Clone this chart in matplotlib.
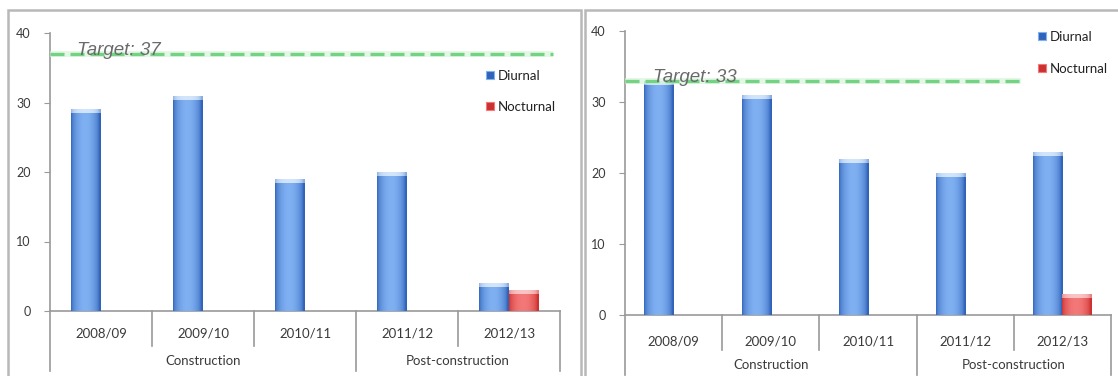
import numpy as np
import matplotlib
matplotlib.use("Agg")
import matplotlib.pyplot as plt
from matplotlib.patches import Rectangle
from matplotlib.colors import to_rgb

# ---- data -------------------------------------------------------------
years = ["2008/09", "2009/10", "2010/11", "2011/12", "2012/13"]
phases = ["Construction", "Post-construction"]
phase_spans = [(0, 2), (3, 4)]          # first / last category index of each phase

left_diurnal = [29, 31, 19, 20, 4]
left_nocturnal = [0, 0, 0, 0, 3]
left_target = 37

right_diurnal = [33, 31, 22, 20, 23]
right_nocturnal = [0, 0, 0, 0, 3]
right_target = 33

series_names = ["Diurnal", "Nocturnal"]
y_ticks = [0, 10, 20, 30, 40]

# ---- figure -----------------------------------------------------------
W, H = 1118, 376
fig = plt.figure(figsize=(W / 100, H / 100), dpi=100)
fig.patch.set_facecolor("white")

LABEL_FONT = ["Lato", "DejaVu Sans"]
TEXT_GRAY = "#3a3a3a"
AXIS_GRAY = "#9a9a9a"


def fx(px):
    return px / W


def fy(py):
    return 1 - py / H


# panel frames (open at the bottom)
for x0, x1 in [(8, 581), (585, 1130)]:
    fig.add_artist(Rectangle((fx(x0), fy(390)), fx(x1) - fx(x0), fy(10) - fy(390),
                             transform=fig.transFigure, facecolor="white",
                             edgecolor="#b8b8b8", linewidth=1.8, zorder=0))

BLUE = dict(dark="#3063b8", light="#7fb0f2", cap="#d3e5fb")
RED = dict(dark="#cc3030", light="#f47878", cap="#fac4c4")


def gradient_bar(ax, rect, pal, cap_units):
    x0, w, h = rect.get_x(), rect.get_width(), rect.get_height()
    if h <= 0:
        return
    t = np.linspace(0, 1, 64)
    prof = np.clip(np.sin(np.pi * np.clip(t * 1.05, 0, 1)) ** 0.55, 0, 1)
    d, l = np.array(to_rgb(pal["dark"])), np.array(to_rgb(pal["light"]))
    row = d[None, :] * (1 - prof[:, None]) + l[None, :] * prof[:, None]
    img = row[None, :, :]
    im = ax.imshow(img, extent=(x0, x0 + w, 0, h), aspect="auto",
                   interpolation="bicubic", zorder=3)
    im.set_clip_path(rect)
    # lighter rounded cap on top of the bar
    c = np.array(to_rgb(pal["cap"]))
    cap = c[None, :] * (0.55 + 0.45 * prof[:, None]) + row * (0.45 - 0.45 * prof[:, None])
    ch = min(cap_units, h)
    im2 = ax.imshow(cap[None, :, :], extent=(x0, x0 + w, h - ch, h), aspect="auto",
                    interpolation="bicubic", zorder=4)
    im2.set_clip_path(rect)


def panel(px_box, diurnal, nocturnal, target, line_end, target_x, legend_px,
          cat_off, grp_off, bar_w):
    x0, x1, y0, y40 = px_box
    ax = fig.add_axes([fx(x0), fy(y0), fx(x1) - fx(x0), fy(y40) - fy(y0)])
    ax.set_xlim(-0.5, len(years) - 0.5)
    ax.set_ylim(0, 40)
    ax.patch.set_alpha(0)
    for s in ["top", "right"]:
        ax.spines[s].set_visible(False)
    for s in ["left", "bottom"]:
        ax.spines[s].set_color(AXIS_GRAY)
        ax.spines[s].set_linewidth(1.2)
    ax.set_yticks(y_ticks)
    ax.set_yticklabels([str(v) for v in y_ticks], family=LABEL_FONT,
                       fontsize=9, color=TEXT_GRAY)
    ax.tick_params(axis="y", length=4, color=AXIS_GRAY, pad=10)
    ax.set_xticks([])

    x = np.arange(len(years))
    b1 = ax.bar(x - bar_w / 2, diurnal, bar_w, color="none", edgecolor="none", zorder=3)
    b2 = ax.bar(x + bar_w / 2, nocturnal, bar_w, color="none", edgecolor="none", zorder=3)
    cap_units = 40 * 4.0 / (y0 - y40)
    for r in b1:
        gradient_bar(ax, r, BLUE, cap_units)
    for r in b2:
        gradient_bar(ax, r, RED, cap_units)

    # target line with soft glow
    ax.axhline(target, xmin=0, xmax=line_end, color="#d8f4da", lw=4.2,
               alpha=0.7, zorder=5, solid_capstyle="butt")
    ax.axhline(target, xmin=0, xmax=line_end, color="#74d382", lw=2.4,
               dashes=(4.2, 1.8), zorder=6)
    ax.text(target_x, target - 0.2, f"Target: {target}", transform=ax.get_yaxis_transform(),
            fontsize=13.5, style="italic", color="#6a6a6a",
            family=["Liberation Sans", "DejaVu Sans"], va="baseline", ha="left",
            zorder=7)

    # multi-level category axis
    hpx = y0 - y40
    short = -35 / hpx
    long_ = -60 / hpx
    xt = ax.get_xaxis_transform()
    bounds_major = {-0.5, len(years) - 0.5}
    for a, b in phase_spans:
        bounds_major.add(a - 0.5)
        bounds_major.add(b + 0.5)
    for k in range(len(years) + 1):
        bx = k - 0.5
        ylo = long_ if bx in bounds_major else short
        ax.plot([bx, bx], [0, ylo], transform=xt, color=AXIS_GRAY, lw=1.2,
                clip_on=False, zorder=2)
    for i, lab in enumerate(years):
        ax.annotate(lab, xy=(i, 0), xycoords=xt, xytext=(0, -cat_off),
                    textcoords="offset pixels", ha="center", va="center",
                    family=LABEL_FONT, fontsize=9.5, color=TEXT_GRAY)
    for (a, b), lab in zip(phase_spans, phases):
        ax.annotate(lab, xy=((a + b) / 2, 0), xycoords=xt, xytext=(0, -grp_off),
                    textcoords="offset pixels", ha="center", va="center",
                    family=LABEL_FONT, fontsize=9.5, color=TEXT_GRAY)

    # legend
    sq = 8
    for (mx, my, tx), name, pal in zip(legend_px, series_names, [BLUE, RED]):
        fig.add_artist(Rectangle((fx(mx), fy(my + sq / 2)), sq / W, sq / H,
                                 transform=fig.transFigure, facecolor=pal["dark"],
                                 edgecolor=pal["light"], lw=0.8, zorder=8))
        fig.text(fx(tx), fy(my + 1), name, family=LABEL_FONT, fontsize=9.5,
                 color="#222222", va="center", ha="left", zorder=8)
    return ax


panel((50, 560, 311, 33), left_diurnal, left_nocturnal, left_target,
      line_end=0.986, target_x=0.053,
      legend_px=[(486, 75, 498), (486, 106, 498)],
      cat_off=22, grp_off=50, bar_w=0.29)

panel((625, 1111, 315, 31), right_diurnal, right_nocturnal, right_target,
      line_end=0.815, target_x=0.058,
      legend_px=[(1038, 36, 1050), (1038, 68, 1050)],
      cat_off=26, grp_off=50, bar_w=0.30)

fig.savefig("out.png", dpi=100, facecolor="white")
